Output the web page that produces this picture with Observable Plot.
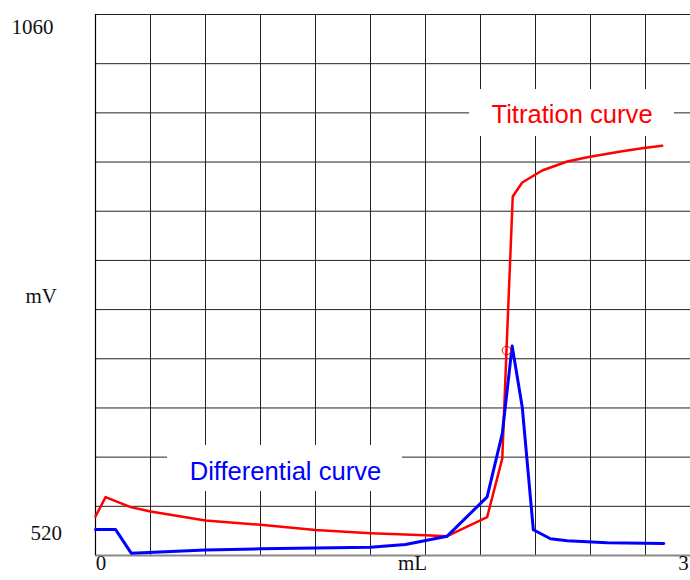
<!DOCTYPE html>
<html>
<head>
<meta charset="utf-8">
<script src="https://cdn.jsdelivr.net/npm/d3@7"></script>
<script src="https://cdn.jsdelivr.net/npm/@observablehq/plot@0.6"></script>
<style>
  html, body { margin: 0; padding: 0; background: #fff; overflow: hidden; }
</style>
</head>
<body>
<div id="chart"></div>
<script>
// Titration curve (mL, mV)
const titrationX = [0, 0.050, 0.174, 0.273, 0.545, 0.818, 1.091, 1.364, 1.636, 1.744, 1.942, 2.017, 2.038, 2.069, 2.116, 2.215, 2.339, 2.445, 2.604, 2.719, 2.810];
const titrationY = [559, 578.3, 568.3, 564, 555, 550.7, 545.5, 542.3, 540.3, 539.3, 558.3, 616.7, 725, 878.3, 892.3, 904.3, 913.3, 917.7, 923.3, 926.7, 929];
// Differential curve (plotted on the same axis)
const diffX = [0, 0.099, 0.177, 0.545, 0.818, 1.091, 1.364, 1.537, 1.744, 1.942, 2.017, 2.066, 2.116, 2.171, 2.256, 2.339, 2.537, 2.818];
const diffY = [546, 546, 522.3, 525.5, 526.7, 527.5, 528.3, 531, 539.3, 578.5, 641.7, 729, 668.3, 545.7, 536.7, 534.7, 532.7, 532];
// End point marker
const endPointX = [2.038];
const endPointY = [724.6];
// Tick labels
const yTickLabels = ["1060", "mV", "520"];
const yTickValues = [1060, 790, 520];
const xTickLabels = ["0", "mL", "3"];
const xTickValues = [0, 1.572, 3];
// Curve labels
const curveLabelText = ["Titration curve", "Differential curve"];
const curveLabelColor = ["#ff0000", "#0000ff"];
const curveLabelX = [2.363, 0.942];
const curveLabelY = [959.4, 604];
const boxX1 = [1.855, 0.357];
const boxX2 = [2.871, 1.522];
const boxY1 = [938.2, 583.9];
const boxY2 = [985.1, 629.8];
// Grid: 11 divisions on each axis
const xDivisions = 11, yDivisions = 11;
const xGrid = d3.range(xDivisions).map(k => k * 3 / xDivisions);
const yGrid = d3.range(yDivisions + 1).map(k => 520 + k * 540 / yDivisions);

const titration = titrationX.map((x, i) => ({x, y: titrationY[i]}));
const diff = diffX.map((x, i) => ({x, y: diffY[i]}));
const endPoint = endPointX.map((x, i) => ({x, y: endPointY[i]}));
const curveLabels = curveLabelText.map((t, i) => ({t, c: curveLabelColor[i], x: curveLabelX[i], y: curveLabelY[i], x1: boxX1[i], x2: boxX2[i], y1: boxY1[i], y2: boxY2[i]}));
const yTicks = yTickLabels.map((t, i) => ({t, y: yTickValues[i]}));
const xTicks = xTickLabels.map((t, i) => ({t, x: xTickValues[i]}));

const serif = "Liberation Serif, Times New Roman, serif";
const sans = "Liberation Sans, Arial, sans-serif";

const chart = Plot.plot({
  width: 690,
  height: 580,
  marginLeft: 95,
  marginRight: 0,
  marginTop: 14,
  marginBottom: 25,
  x: {domain: [0, 3], range: [95, 700], axis: null},
  y: {domain: [520, 1060], axis: null},
  marks: [
    Plot.ruleX(xGrid, {stroke: "#222", strokeWidth: 1}),
    Plot.ruleY(yGrid, {stroke: "#222", strokeWidth: 1}),
    Plot.ruleY([520], {stroke: "#888", strokeWidth: 2}),
    Plot.ruleX([0], {stroke: "#000", strokeWidth: 1.2}),
    Plot.rect(curveLabels, {x1: "x1", x2: "x2", y1: "y1", y2: "y2", fill: "white"}),
    Plot.line(titration, {x: "x", y: "y", stroke: "#ff0000", strokeWidth: 2.5, strokeLinejoin: "round"}),
    Plot.line(diff, {x: "x", y: "y", stroke: "#0000ff", strokeWidth: 3, strokeLinejoin: "round"}),
    Plot.dot(endPoint, {x: "x", y: "y", r: 4.3, stroke: "#ff0000", strokeWidth: 1, fill: "none"}),
    Plot.text(curveLabels, {x: "x", y: "y", text: "t", fill: "c", fontSize: 25.6, fontFamily: sans, textAnchor: "middle"}),
    Plot.text(yTicks.slice(0, 1), {y: "y", text: "t", frameAnchor: "left", textAnchor: "start", dx: -84, dy: 12.3, fontSize: 21, fontFamily: serif, fill: "#111"}),
    Plot.text(yTicks.slice(1, 2), {y: "y", text: "t", frameAnchor: "left", textAnchor: "start", dx: -70, dy: 11, fontSize: 21, fontFamily: serif, fill: "#111"}),
    Plot.text(yTicks.slice(2, 3), {y: "y", text: "t", frameAnchor: "left", textAnchor: "start", dx: -65, dy: -22.7, fontSize: 21, fontFamily: serif, fill: "#111"}),
    Plot.text(xTicks.slice(0, 1), {x: "x", text: "t", frameAnchor: "bottom", textAnchor: "middle", dx: 5.5, dy: 14.5, fontSize: 21, fontFamily: serif, fill: "#111"}),
    Plot.text(xTicks.slice(1, 2), {x: "x", text: "t", frameAnchor: "bottom", textAnchor: "middle", dy: 14, fontSize: 21, fontFamily: serif, fill: "#111"}),
    Plot.text(xTicks.slice(2, 3), {x: "x", text: "t", frameAnchor: "bottom", textAnchor: "middle", dx: -17, dy: 14.5, fontSize: 21, fontFamily: serif, fill: "#111"})
  ]
});
document.getElementById("chart").appendChild(chart);
</script>
</body>
</html>
